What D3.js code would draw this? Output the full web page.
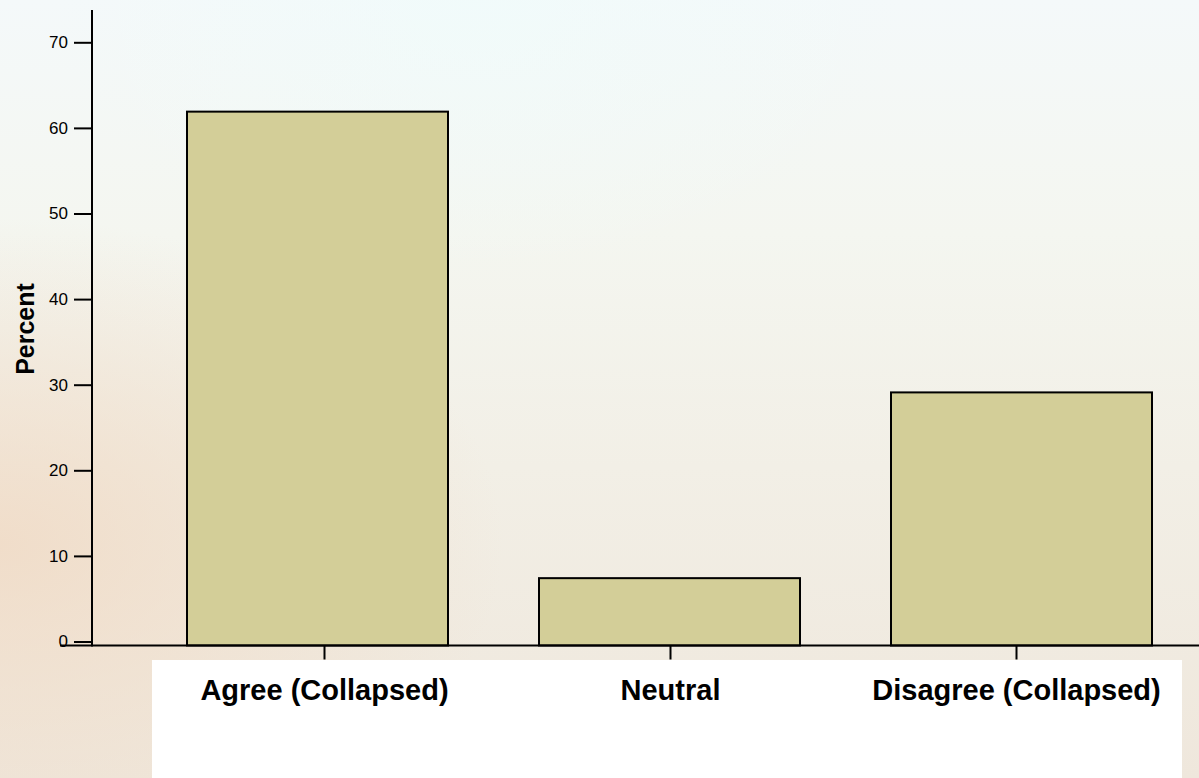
<!DOCTYPE html>
<html>
<head>
<meta charset="utf-8">
<script src="https://cdn.jsdelivr.net/npm/d3@7"></script>
<style>
  html, body { margin: 0; padding: 0; background: #fff; }
  svg { display: block; }
  text { font-family: Arial, "Liberation Sans", sans-serif; }
</style>
</head>
<body>
<svg id="chart" width="1199" height="778"></svg>
<script>
// ---- data ----
const categories = ["Agree (Collapsed)", "Neutral", "Disagree (Collapsed)"];
const percents = [61.9, 7.4, 29.1];
const yTicks = [0, 10, 20, 30, 40, 50, 60, 70];
const yTitle = "Percent";

const W = 1199, H = 778;
const svg = d3.select("#chart");

// ---- background gradients ----
const defs = svg.append("defs");
const bg = defs.append("linearGradient").attr("id", "bgv").attr("x1", 0).attr("y1", 0).attr("x2", 0).attr("y2", 1);
[[0, "#f4f9fa"], [0.3, "#f4f6f0"], [0.6, "#f2efe6"], [1, "#efe7dc"]].forEach(([o, c]) =>
  bg.append("stop").attr("offset", o).attr("stop-color", c));
const rg = defs.append("radialGradient").attr("id", "bgr").attr("cx", 0).attr("cy", 0.7).attr("r", 0.42);
rg.append("stop").attr("offset", 0).attr("stop-color", "#f0d9c3").attr("stop-opacity", 0.8);
rg.append("stop").attr("offset", 1).attr("stop-color", "#f0d9c3").attr("stop-opacity", 0);
const tg = defs.append("radialGradient").attr("id", "bgt").attr("cx", 0.4).attr("cy", 0).attr("r", 0.35);
tg.append("stop").attr("offset", 0).attr("stop-color", "#effcfb").attr("stop-opacity", 0.6);
tg.append("stop").attr("offset", 1).attr("stop-color", "#effcfb").attr("stop-opacity", 0);

svg.append("rect").attr("width", W).attr("height", H).attr("fill", "url(#bgv)");
svg.append("rect").attr("width", W).attr("height", H).attr("fill", "url(#bgr)");
svg.append("rect").attr("width", W).attr("height", H).attr("fill", "url(#bgt)");

// white label panel
svg.append("rect").attr("x", 152).attr("y", 660).attr("width", 1030).attr("height", 118).attr("fill", "#ffffff");

// ---- scales ----
const baseY = 645.5;
const y = d3.scaleLinear().domain([0, 70]).range([641.5, 42.3]);
const xBar = d3.scaleBand().domain(categories).range([141.5, 1197.5])
  .paddingInner(91 / 352).paddingOuter(91 / 352 / 2);
const xTick = d3.scalePoint().domain(categories).range([324, 1016]);

// ---- bars ----
svg.append("g").selectAll("rect").data(categories).join("rect")
  .attr("x", d => xBar(d))
  .attr("y", (d, i) => y(percents[i]))
  .attr("width", xBar.bandwidth())
  .attr("height", (d, i) => baseY - y(percents[i]))
  .attr("fill", "#d3ce98")
  .attr("stroke", "#000")
  .attr("stroke-width", 2);

// ---- y axis ----
const yAxis = d3.axisLeft(y).tickValues(yTicks).tickSize(18).tickPadding(6).tickSizeOuter(0);
const gy = svg.append("g").attr("transform", "translate(92,0)").call(yAxis);
gy.select(".domain").remove();
gy.selectAll(".tick line").attr("stroke", "#000").attr("stroke-width", 2);
gy.selectAll(".tick text").attr("fill", "#000").style("font-size", "17px");
svg.append("line").attr("x1", 92).attr("x2", 92).attr("y1", 10).attr("y2", baseY + 1)
  .attr("stroke", "#000").attr("stroke-width", 2);

// ---- x axis ----
const xAxis = d3.axisBottom(xTick).tickSize(14).tickPadding(20).tickSizeOuter(0);
const gx = svg.append("g").attr("transform", `translate(0,${baseY})`).call(xAxis);
gx.select(".domain").remove();
gx.selectAll(".tick line").attr("stroke", "#000").attr("stroke-width", 2);
gx.selectAll(".tick text").attr("fill", "#000").style("font-size", "29px").style("font-weight", "bold");
svg.append("line").attr("x1", 60).attr("x2", W).attr("y1", baseY).attr("y2", baseY)
  .attr("stroke", "#000").attr("stroke-width", 2);

// ---- y title ----
svg.append("text")
  .attr("transform", "translate(34,329) rotate(-90)")
  .attr("text-anchor", "middle")
  .style("font-size", "25px").style("font-weight", "bold")
  .text(yTitle);
</script>
</body>
</html>
